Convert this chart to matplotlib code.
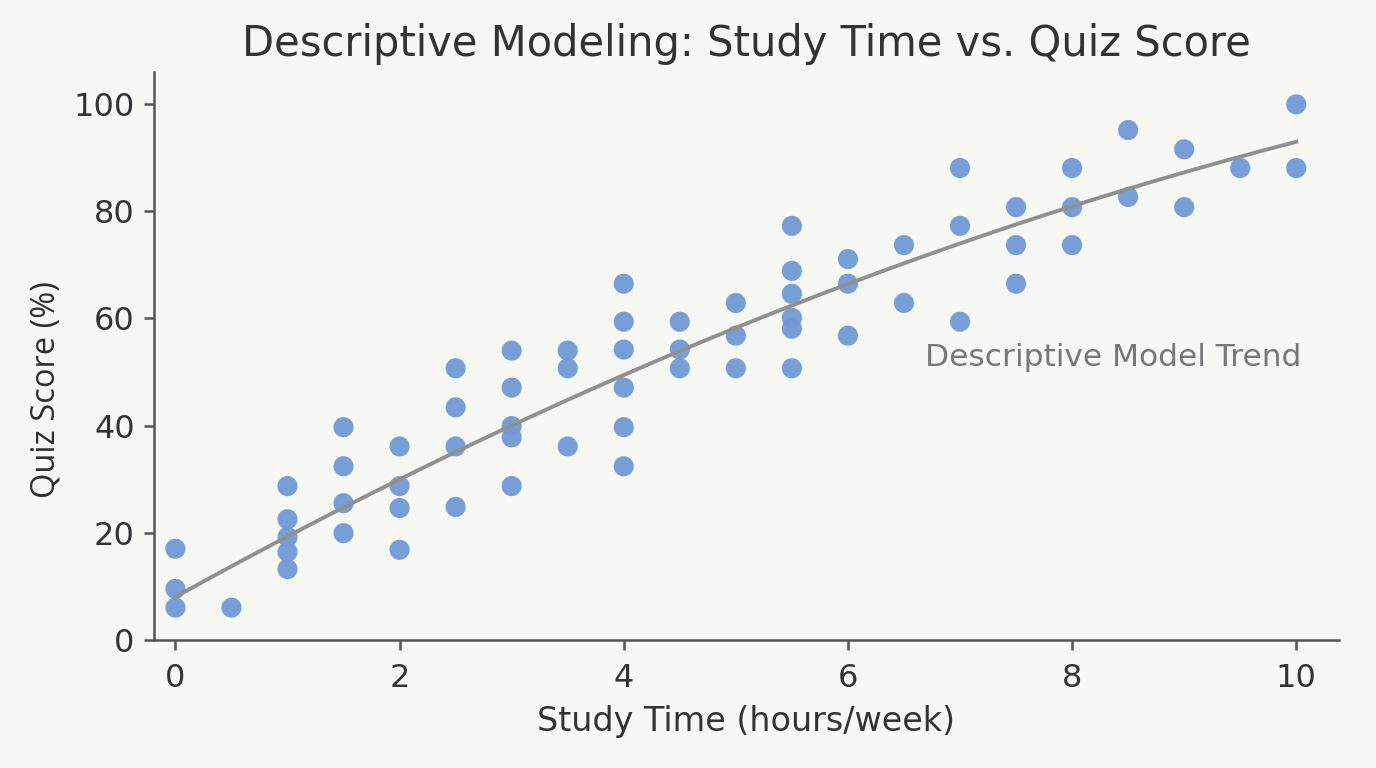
import numpy as np
import matplotlib.pyplot as plt

# study hours and quiz scores
hours = [0, 0, 0, 0.5,
         1, 1, 1, 1, 1,
         1.5, 1.5, 1.5, 1.5,
         2, 2, 2, 2,
         2.5, 2.5, 2.5, 2.5,
         3, 3, 3, 3, 3,
         3.5, 3.5, 3.5,
         4, 4, 4, 4, 4, 4,
         4.5, 4.5, 4.5,
         5, 5, 5,
         5.5, 5.5, 5.5, 5.5, 5.5, 5.5,
         6, 6, 6,
         6.5, 6.5,
         7, 7, 7,
         7.5, 7.5, 7.5,
         8, 8, 8,
         8.5, 8.5,
         9, 9,
         9.5,
         10, 10]
scores = [17, 9.5, 6, 6,
          28.7, 22.5, 19.2, 16.4, 13.2,
          39.7, 32.4, 25.5, 19.9,
          36.1, 28.7, 24.6, 16.8,
          50.7, 43.4, 36.1, 24.8,
          54, 47.1, 39.9, 37.8, 28.7,
          54, 50.7, 36.1,
          66.5, 59.4, 54.2, 47.1, 39.7, 32.4,
          59.4, 54.2, 50.7,
          62.9, 56.8, 50.7,
          77.3, 68.9, 64.6, 60.1, 58.1, 50.7,
          71.1, 66.5, 56.8,
          73.7, 62.9,
          88.1, 77.3, 59.4,
          80.8, 73.7, 66.5,
          88.1, 80.8, 73.7,
          95.2, 82.7,
          91.6, 80.8,
          88.1,
          100, 88.1]

# quadratic trend (highest power first)
trend_coef = [-0.31, 11.6, 8.0]
trend_range = [0, 10]

x = np.array(hours)
y = np.array(scores)
xs = np.linspace(trend_range[0], trend_range[1], 200)
ys = np.polyval(trend_coef, xs)

bg = "#f7f7f4"
fig, ax = plt.subplots(figsize=(13.76, 7.68), dpi=100)
fig.patch.set_facecolor(bg)
ax.set_facecolor(bg)

ax.scatter(x, y, s=210, color="#7199d6", alpha=0.95, edgecolors="none", zorder=2)
ax.plot(xs, ys, color="#909090", linewidth=2.8, zorder=3)

ax.text(10.05, 52.7, "Descriptive Model Trend", ha="right", va="center",
        fontsize=22.5, color="#777777")

ax.set_xlim(-0.19, 10.38)
ax.set_ylim(0, 106)
ax.set_xticks([0, 2, 4, 6, 8, 10])
ax.set_yticks([0, 20, 40, 60, 80, 100])

ax.set_title("Descriptive Modeling: Study Time vs. Quiz Score", fontsize=30, color="#333333", pad=12)
ax.set_xlabel("Study Time (hours/week)", fontsize=24, color="#333333", labelpad=8)
ax.set_ylabel("Quiz Score (%)", fontsize=23.5, color="#2e2e2e", family="Open Sans", fontweight="medium")
ax.yaxis.set_label_coords(-0.077, 0.44)

for side in ["top", "right"]:
    ax.spines[side].set_visible(False)
for side in ["left", "bottom"]:
    ax.spines[side].set_color("#555555")
    ax.spines[side].set_linewidth(1.8)
ax.tick_params(labelsize=23, colors="#333333", width=1.8, length=7, color="#555555", pad=7)
ax.tick_params(axis="x", pad=10)

fig.subplots_adjust(left=0.112, right=0.973, bottom=0.167, top=0.906)
fig.savefig("out.png", dpi=100, facecolor=bg)
